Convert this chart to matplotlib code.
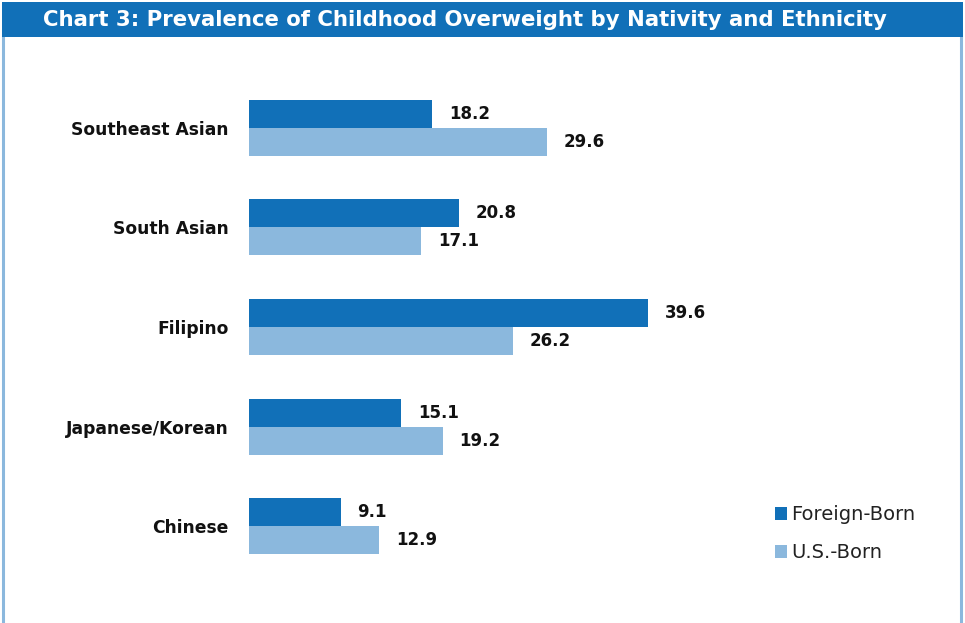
import matplotlib
matplotlib.use("Agg")
import matplotlib.pyplot as plt
from matplotlib.patches import Rectangle

categories = ["Chinese", "Japanese/Korean", "Filipino", "South Asian", "Southeast Asian"]
foreign_born = [9.1, 15.1, 39.6, 20.8, 18.2]
us_born = [12.9, 19.2, 26.2, 17.1, 29.6]
series_names = ["Foreign-Born", "U.S.-Born"]
title = "Chart 3: Prevalence of Childhood Overweight by Nativity and Ethnicity"

dark = "#1170B8"
light = "#8BB8DD"

W, H = 965, 623
fig = plt.figure(figsize=(W / 100, H / 100), dpi=100)

# frame and title banner
fig.add_artist(Rectangle((3 / W, -0.05), 958 / W, 1.0, transform=fig.transFigure,
                         fill=False, edgecolor=light, linewidth=2.2))
fig.add_artist(Rectangle((2 / W, 1 - 37 / H), 961 / W, 35 / H, transform=fig.transFigure,
                         facecolor=dark, edgecolor="none"))
fig.text(465 / W, 1 - 20 / H, title, color="white", fontsize=15.3, fontweight="bold",
         ha="center", va="center")

ax = fig.add_axes([249 / W, 1 - 576 / H, 500 / W, 498 / H])
ax.set_xlim(0, 500 / 10.08)
ax.set_ylim(-0.5, 4.5)
h = 0.281
ypos = list(range(len(categories)))
ax.barh([y + h / 2 for y in ypos], foreign_born, height=h, color=dark, label=series_names[0])
ax.barh([y - h / 2 for y in ypos], us_born, height=h, color=light, label=series_names[1])

for y, v in zip(ypos, foreign_born):
    ax.annotate(f"{v:.1f}", (v, y + h / 2), xytext=(12, 0), textcoords="offset points",
                va="center", ha="left", fontsize=12, fontweight="bold", color="#111111")
for y, v in zip(ypos, us_born):
    ax.annotate(f"{v:.1f}", (v, y - h / 2), xytext=(12, 0), textcoords="offset points",
                va="center", ha="left", fontsize=12, fontweight="bold", color="#111111")

ax.set_yticks(ypos)
ax.set_yticklabels(categories, fontsize=12.3, fontweight="bold", color="#111111")
ax.tick_params(axis="y", length=0, pad=14.5)
ax.set_xticks([])
for s in ax.spines.values():
    s.set_visible(False)

leg = fig.legend(loc="upper left", bbox_to_anchor=(757 / W, 1 - 488 / H), frameon=False,
                 fontsize=14, handlelength=0.65, handleheight=0.65, handletextpad=0.2,
                 labelspacing=0.95, labelcolor="#222222")

fig.savefig("out.png", dpi=100)
